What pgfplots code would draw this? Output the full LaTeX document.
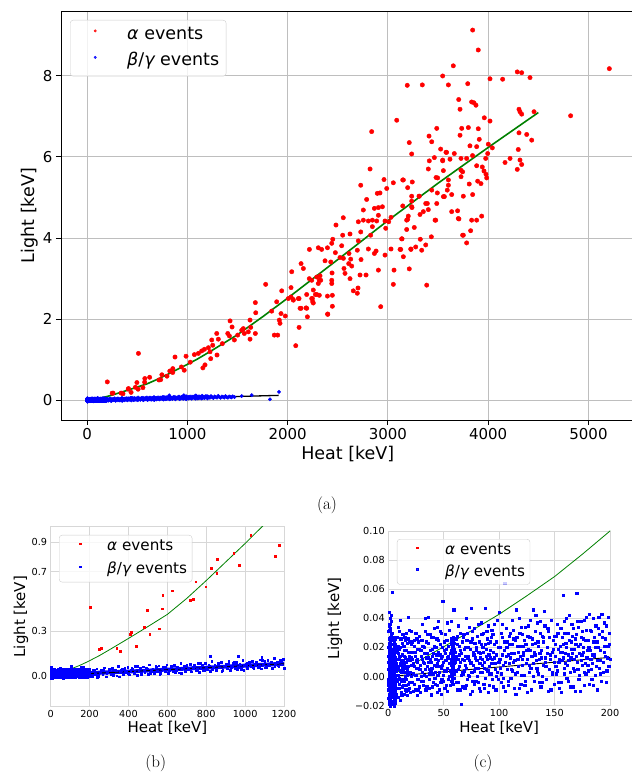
\documentclass[border=0pt]{standalone}
\usepackage{fontspec}
\usepackage{pgfplots}
\usepackage{pgfplotstable}
\pgfplotsset{compat=1.18}
\newfontfamily\dv{DejaVu Sans}[ItalicFont={DejaVu Sans Oblique}]
\definecolor{gridgray}{RGB}{190,190,190}
\definecolor{lightgrid}{RGB}{215,215,215}
\definecolor{mplgreen}{RGB}{0,128,0}
\definecolor{legendedge}{RGB}{204,204,204}

% alpha events (heat keV, light keV)
\pgfplotstableread[row sep=\\]{
E L\\
202 0.458\\ 250 0.180\\ 259 0.182\\ 339 0.182\\ 358 0.166\\ 410 0.278\\ 413 0.294\\ 439 0.200\\ 482 0.325\\ 497 0.442\\
509 0.278\\ 512 1.16\\ 557 0.316\\ 574 0.451\\ 576 0.541\\ 624 0.572\\ 717 0.505\\ 734 0.512\\ 746 0.633\\ 797 0.599\\
825 0.725\\ 855 0.785\\ 854 0.689\\ 877 1.07\\ 941 0.826\\ 969 0.745\\ 987 1.09\\ 1029 0.943\\ 1070 1.13\\ 1110 1.16\\
1143 1.22\\ 1155 0.803\\ 1176 0.877\\ 1170 1.26\\ 1210 1.30\\ 1226 1.20\\ 1233 1.03\\ 1253 1.36\\ 1243 1.49\\ 1293 1.65\\
1309 1.51\\ 1296 1.12\\ 1349 1.40\\ 1403 1.65\\ 1419 1.59\\ 1426 1.96\\ 1446 1.81\\ 1469 1.49\\ 1502 1.61\\ 1542 1.73\\
1558 1.77\\ 1568 1.65\\ 1608 1.69\\ 1625 1.51\\ 1632 1.80\\ 1625 1.98\\ 1678 1.65\\ 1682 2.16\\ 1678 2.41\\ 1781 2.86\\
1841 2.20\\ 1891 2.43\\ 1867 1.61\\ 1901 1.61\\ 1917 1.98\\ 1924 1.90\\ 1934 2.14\\ 1941 2.70\\ 1977 2.08\\ 2007 2.51\\
2034 2.78\\ 2041 3.17\\ 2054 2.49\\ 2081 1.35\\ 2107 2.51\\ 2114 1.80\\ 2134 3.37\\ 2157 3.25\\ 2217 3.72\\ 2306 3.76\\
2240 2.96\\ 2256 2.72\\ 2190 2.27\\ 2124 2.27\\ 2197 2.06\\ 2277 2.61\\ 2247 2.51\\ 2316 2.59\\ 2316 2.96\\ 2838 6.62\\
3088 6.90\\ 2822 5.70\\ 2729 5.30\\ 2788 4.95\\ 2755 4.69\\ 2961 5.44\\ 2988 5.22\\ 2894 5.10\\ 2921 5.11\\ 2865 4.73\\
2905 4.75\\ 2945 4.77\\ 2905 4.56\\ 2845 4.44\\ 2888 4.42\\ 2805 4.42\\ 2755 4.44\\ 2705 4.40\\ 2971 4.42\\ 3008 4.40\\
3031 4.51\\ 2978 4.24\\ 2845 4.28\\ 2729 4.15\\ 2705 3.93\\ 2828 4.07\\ 2555 4.50\\ 2482 4.32\\ 2549 4.07\\ 2622 4.10\\
2450 3.97\\ 2440 3.87\\ 2397 3.76\\ 2339 3.72\\ 2539 3.81\\ 2476 3.64\\ 2522 3.52\\ 2556 3.50\\ 2612 3.62\\ 2629 3.48\\
2695 3.70\\ 2805 3.73\\ 2865 3.62\\ 2882 3.68\\ 2732 3.47\\ 2373 3.44\\ 2430 3.41\\ 2609 3.37\\ 2639 3.31\\ 2562 3.25\\
2443 3.14\\ 2572 3.13\\ 2722 3.09\\ 2782 3.09\\ 2622 3.00\\ 2655 2.70\\ 2695 2.64\\ 2702 2.77\\ 2216 3.00\\ 2290 3.04\\
2323 3.07\\ 2330 2.96\\ 2440 2.96\\ 2440 2.88\\ 2306 2.88\\ 2190 2.61\\ 2240 2.51\\ 2256 2.40\\ 2290 2.61\\ 2397 2.57\\
2446 2.59\\ 2034 2.55\\ 2057 2.47\\ 2114 2.51\\ 2134 2.27\\ 2184 2.28\\ 2446 2.32\\ 2399 2.13\\ 2928 2.31\\ 3054 2.86\\
3061 3.21\\ 2905 3.21\\ 2971 3.58\\ 3031 3.73\\ 3141 3.98\\ 3154 3.54\\ 3128 3.72\\ 3213 3.24\\ 3187 4.21\\ 3197 4.46\\
3203 4.54\\ 3148 4.79\\ 3237 4.91\\ 3240 4.75\\ 3263 4.26\\ 3277 3.78\\ 3230 3.72\\ 3320 4.58\\ 3353 4.65\\ 3377 4.85\\
3403 4.70\\ 3313 5.03\\ 3323 3.97\\ 3337 3.70\\ 3377 3.83\\ 3433 4.03\\ 3387 2.84\\ 3437 5.18\\ 3477 4.44\\ 3493 5.11\\
3480 5.49\\ 3553 5.66\\ 3603 5.43\\ 3546 5.90\\ 3403 5.70\\ 3413 5.90\\ 3463 5.98\\ 3526 6.19\\ 3579 6.11\\ 3437 6.37\\
3410 6.51\\ 3487 6.70\\ 3237 6.07\\ 3213 6.35\\ 3148 5.43\\ 3197 5.24\\ 3054 5.36\\ 3243 5.38\\ 3553 5.02\\ 2400 2.12\\
2250 2.43\\ 3745 4.07\\ 3785 3.88\\ 3825 4.18\\ 3835 4.44\\ 3885 4.44\\ 3935 4.54\\ 3702 4.48\\ 3845 9.12\\ 3901 8.63\\
3652 8.24\\ 3546 7.99\\ 3193 7.76\\ 3343 7.77\\ 3603 7.77\\ 3796 7.80\\ 4018 7.92\\ 4144 7.91\\ 4290 8.09\\ 4334 8.07\\
4417 7.95\\ 3706 7.41\\ 3719 7.17\\ 3835 7.35\\ 3858 7.33\\ 3878 7.27\\ 4307 7.17\\ 4317 7.11\\ 4334 7.05\\ 4457 7.11\\
4822 7.01\\ 5208 8.17\\ 3961 6.96\\ 4018 6.88\\ 3736 6.70\\ 3802 6.72\\ 3901 6.69\\ 3719 6.53\\ 3585 6.11\\ 3662 6.08\\
3818 6.27\\ 3885 6.25\\ 3911 6.43\\ 4001 6.31\\ 4041 6.22\\ 3995 6.08\\ 4307 6.59\\ 4384 6.55\\ 4434 6.41\\ 4300 6.18\\
3546 5.92\\ 3619 5.94\\ 3729 5.96\\ 3785 5.96\\ 3844 6.03\\ 3975 5.96\\ 4218 5.96\\ 4168 5.86\\ 4317 5.92\\ 4334 5.81\\
4290 5.69\\ 3729 5.67\\ 3745 5.63\\ 3885 5.78\\ 3941 5.75\\ 3958 5.65\\ 3978 5.57\\ 3985 5.48\\ 3729 5.51\\ 3496 5.48\\
3895 5.40\\ 3928 5.34\\ 3811 5.33\\ 3154 5.43\\ 3603 5.30\\ 3592 5.18\\ 3563 5.02\\ 3636 5.07\\ 3752 5.03\\ 3845 5.07\\
3237 5.03\\ 3310 5.03\\ 3237 4.77\\ 3393 4.85\\ 3487 4.85\\ 3636 4.65\\ 3695 4.67\\ 3708 4.47\\ 3470 4.44\\ 3187 4.44\\
3752 4.07\\ 3137 3.98\\ 3121 3.72\\ 3228 3.73\\
}\alphadata

% beta/gamma events (heat keV, light keV)
\pgfplotstableread[row sep=\\]{
E L\\
0.3 0.005\\ 0.5 -0.012\\ 0.8 0.018\\ 1.0 0.002\\ 1.2 -0.008\\ 1.5 0.011\\ 1.7 -0.016\\ 2.0 0.024\\ 2.2 0.000\\ 2.5 -0.004\\ 2.8 0.014\\ 3.0 -0.010\\
0.4 0.031\\ 0.6 -0.019\\ 0.9 0.008\\ 1.1 0.016\\ 1.3 -0.003\\ 1.6 0.021\\ 1.8 -0.011\\ 2.1 0.006\\ 2.3 0.029\\ 2.6 -0.014\\ 2.9 0.003\\ 3.1 0.019\\
0.2 -0.006\\ 0.7 0.013\\ 1.0 -0.017\\ 1.4 0.027\\ 1.9 0.010\\ 2.4 -0.007\\ 2.7 0.022\\ 3.2 0.058\\ 0.5 0.044\\ 1.2 0.036\\ 2.0 -0.020\\ 0.8 -0.001\\
1.5 0.004\\ 2.2 0.015\\ 0.3 0.020\\ 1.7 0.033\\ 2.6 0.009\\ 1.1 -0.013\\ 0.6 0.026\\ 2.9 -0.018\\ 1.8 0.017\\ 0.9 -0.009\\ 2.4 0.038\\ 1.3 0.012\\
0.4 -0.015\\ 2.1 -0.002\\ 1.6 0.007\\ 2.8 0.027\\ 0.7 0.001\\ 3.0 0.012\\ 1.4 -0.005\\ 2.3 0.042\\ 0.1 0.010\\ 1.9 -0.013\\ 2.5 0.018\\ 1.0 0.023\\
4.6 0.010\\ 4.8 -0.014\\ 5.0 0.022\\ 5.2 0.003\\ 5.4 -0.019\\ 5.6 0.015\\ 5.8 -0.006\\ 6.0 0.026\\ 6.2 0.008\\ 6.4 -0.011\\
4.7 0.018\\ 4.9 -0.003\\ 5.1 -0.020\\ 5.3 0.012\\ 5.5 0.024\\ 5.7 -0.015\\ 5.9 0.005\\ 6.1 -0.009\\ 6.3 0.019\\ 6.5 0.001\\
4.5 -0.008\\ 5.0 0.007\\ 5.2 -0.012\\ 5.4 0.027\\ 5.6 -0.002\\ 5.8 0.013\\ 6.0 -0.017\\ 6.2 0.021\\ 5.1 0.016\\ 5.5 -0.010\\
5.3 -0.016\\ 5.7 0.009\\ 5.9 -0.013\\ 6.1 0.017\\ 4.8 0.025\\ 5.0 -0.005\\ 5.6 0.004\\ 6.3 -0.004\\ 5.4 0.020\\ 5.8 -0.018\\
7.2 0.004\\ 7.8 -0.008\\ 8.3 0.012\\ 8.9 0.001\\ 9.4 0.019\\ 10.0 -0.005\\ 10.5 0.009\\ 11.1 0.026\\ 11.6 -0.011\\ 12.2 0.006\\
12.7 0.015\\ 13.3 -0.002\\ 13.8 0.021\\ 14.4 0.008\\ 14.9 -0.009\\ 15.5 0.013\\ 16.0 0.030\\ 16.6 0.003\\ 17.1 -0.013\\ 17.7 0.017\\
18.2 0.007\\ 18.8 -0.004\\ 19.3 0.024\\ 19.9 0.011\\ 7.5 0.017\\ 8.0 0.027\\ 8.6 -0.014\\ 9.1 0.007\\ 9.7 -0.001\\ 10.2 0.014\\
10.8 -0.016\\ 11.4 0.003\\ 11.9 0.011\\ 12.5 -0.007\\ 13.0 0.029\\ 13.6 0.005\\ 14.1 -0.012\\ 14.7 0.018\\ 15.2 0.000\\ 15.8 -0.006\\
16.3 0.010\\ 16.9 0.023\\ 17.4 0.005\\ 18.0 -0.009\\ 18.5 0.014\\ 19.1 0.002\\ 19.6 -0.011\\ 7.0 -0.012\\ 9.0 0.034\\ 11.0 0.039\\
13.5 0.010\\ 16.0 -0.002\\ 18.0 0.041\\ 19.0 0.032\\ 8.8 0.021\\ 12.0 -0.003\\ 15.0 0.025\\ 17.0 0.012\\ 10.0 0.031\\ 14.0 0.003\\
20.5 0.008\\ 21.3 -0.004\\ 22.0 0.017\\ 22.8 0.002\\ 23.5 0.025\\ 24.3 -0.009\\ 25.0 0.011\\ 25.8 0.019\\ 26.5 -0.002\\ 27.3 0.006\\
28.0 0.028\\ 28.8 -0.011\\ 29.5 0.014\\ 30.3 0.003\\ 31.0 0.021\\ 31.8 -0.006\\ 32.5 0.009\\ 33.3 0.031\\ 34.0 0.000\\ 34.8 0.016\\
35.5 -0.008\\ 36.3 0.023\\ 37.0 0.005\\ 37.8 0.012\\ 38.5 -0.012\\ 39.3 0.019\\ 40.0 0.002\\ 40.8 0.027\\ 41.5 0.008\\ 42.3 -0.005\\
43.0 0.015\\ 43.8 0.034\\ 44.5 0.001\\ 45.3 0.011\\ 46.0 -0.009\\ 46.8 0.022\\ 47.5 0.006\\ 48.3 0.014\\ 49.0 0.052\\ 49.8 -0.003\\
50.5 0.018\\ 51.3 0.029\\ 52.0 0.004\\ 52.8 -0.010\\ 53.5 0.013\\ 54.3 0.021\\ 55.0 0.000\\
20.9 0.022\\ 21.7 0.012\\ 22.4 -0.010\\ 23.2 0.007\\ 23.9 0.014\\ 24.7 0.030\\ 25.4 0.001\\ 26.2 0.010\\ 26.9 0.024\\ 27.7 -0.007\\
28.4 0.005\\ 29.2 0.018\\ 29.9 -0.003\\ 30.7 0.036\\ 31.4 0.010\\ 32.2 0.001\\ 32.9 0.016\\ 33.7 -0.009\\ 34.4 0.024\\ 35.2 0.007\\
35.9 0.013\\ 36.7 -0.002\\ 37.4 0.029\\ 38.2 0.004\\ 38.9 0.010\\ 39.7 -0.007\\ 40.4 0.016\\ 41.2 0.033\\ 41.9 -0.001\\ 42.7 0.020\\
43.4 0.007\\ 44.2 -0.011\\ 44.9 0.025\\ 45.7 0.003\\ 46.4 0.015\\ 47.2 -0.004\\ 47.9 0.030\\ 48.7 0.008\\ 49.4 0.001\\ 50.2 0.024\\
50.9 -0.008\\ 51.7 0.011\\ 52.4 0.019\\ 53.2 0.037\\ 53.9 -0.002\\ 54.7 0.009\\ 21.0 0.031\\ 26.0 -0.013\\ 33.0 0.040\\ 39.0 -0.013\\
45.0 0.038\\ 36.0 0.041\\ 24.0 0.001\\ 42.0 0.012\\ 48.0 -0.012\\
56.2 0.004\\ 56.5 0.018\\ 56.8 -0.003\\ 57.0 0.025\\ 57.2 0.010\\ 57.5 0.000\\ 57.7 0.021\\ 58.0 0.007\\ 58.2 0.027\\ 58.5 -0.005\\
58.7 0.014\\ 59.0 0.002\\ 59.2 0.019\\ 56.4 0.012\\ 56.9 0.024\\ 57.3 0.016\\ 57.6 -0.002\\ 57.9 0.011\\ 58.3 0.022\\ 58.6 0.006\\
58.9 0.026\\ 59.3 0.009\\ 56.6 0.008\\ 57.1 0.003\\ 57.8 0.015\\ 58.4 0.013\\ 59.1 -0.001\\ 57.4 0.020\\ 58.1 0.017\\ 58.8 0.020\\
59.0 0.046\\ 57.0 0.038\\ 56.0 -0.006\\
60.4 0.010\\ 61.2 -0.004\\ 62.0 0.022\\ 62.8 0.005\\ 63.6 0.015\\ 64.4 -0.009\\ 65.2 0.030\\ 66.0 -0.019\\ 66.8 0.012\\ 67.6 0.002\\
68.4 0.019\\ 69.2 0.008\\ 70.0 -0.006\\ 70.8 0.025\\ 71.6 0.013\\ 72.4 0.001\\ 73.2 0.034\\ 74.0 0.009\\ 74.8 0.047\\ 75.6 -0.010\\
76.4 0.017\\ 77.2 0.004\\ 78.0 0.023\\ 78.8 -0.003\\ 79.6 0.011\\ 80.4 0.028\\ 81.2 0.006\\ 82.0 -0.008\\ 82.8 0.016\\ 83.6 0.037\\
84.4 0.003\\ 85.2 0.020\\ 86.0 -0.005\\ 86.8 0.010\\ 87.6 0.047\\ 88.4 0.014\\ 89.2 0.026\\ 90.0 -0.011\\ 90.8 0.007\\ 91.6 0.018\\
92.4 0.002\\ 93.2 0.032\\ 94.0 0.012\\ 94.8 -0.007\\ 95.6 0.022\\ 96.4 0.005\\ 97.2 0.015\\ 98.0 0.039\\ 98.8 -0.002\\ 99.6 0.010\\
60.8 0.026\\ 61.6 0.014\\ 62.4 -0.009\\ 63.2 0.035\\ 64.0 0.007\\ 64.8 0.018\\ 65.6 0.001\\ 66.4 0.024\\ 67.2 -0.007\\ 68.0 0.029\\
68.8 0.004\\ 69.6 0.014\\ 70.4 0.040\\ 71.2 -0.002\\ 72.0 0.020\\ 72.8 0.011\\ 73.6 -0.012\\ 74.4 0.024\\ 75.2 0.003\\ 76.0 0.031\\
76.8 0.008\\ 77.6 -0.005\\ 78.4 0.013\\ 79.2 0.020\\ 80.0 0.000\\ 80.8 0.036\\ 81.6 0.017\\ 82.4 0.009\\ 83.2 -0.010\\ 84.0 0.022\\
84.8 0.012\\ 85.6 0.030\\ 86.4 0.006\\ 87.2 -0.001\\ 88.0 0.019\\ 88.8 0.031\\ 89.6 0.004\\ 90.4 0.023\\ 91.2 -0.006\\ 92.0 0.013\\
92.8 0.027\\ 93.6 -0.002\\ 94.4 0.017\\ 95.2 0.036\\ 96.0 0.009\\ 96.8 -0.009\\ 97.6 0.024\\ 98.4 0.003\\ 99.2 0.020\\ 100.0 0.044\\
100.5 0.012\\ 101.5 -0.004\\ 102.5 0.027\\ 103.5 0.008\\ 104.5 0.018\\ 105.0 0.064\\ 105.5 -0.010\\ 106.5 0.033\\ 107.5 0.005\\ 108.5 0.015\\
109.5 0.022\\ 110.5 -0.001\\ 111.5 0.039\\ 112.5 0.010\\ 113.5 -0.008\\ 114.5 0.025\\ 115.5 0.046\\ 116.5 0.003\\ 117.5 0.017\\ 118.5 0.030\\
119.5 -0.005\\ 120.5 0.012\\ 121.5 0.021\\ 122.5 0.001\\ 123.5 0.034\\ 124.5 0.009\\ 125.5 -0.011\\ 126.5 0.019\\ 127.5 0.027\\ 128.5 0.006\\
129.5 0.014\\ 130.5 0.046\\ 131.5 -0.003\\ 132.5 0.023\\ 133.5 0.011\\ 134.5 0.037\\ 135.5 0.002\\ 136.5 0.016\\ 137.5 -0.007\\ 138.5 0.028\\
139.5 0.008\\ 140.5 0.045\\ 141.5 0.013\\ 142.5 -0.002\\ 143.5 0.020\\ 144.5 0.031\\ 145.5 0.005\\ 146.5 -0.009\\ 147.5 0.017\\ 148.5 0.025\\ 149.5 0.010\\
101.0 0.020\\ 102.0 0.002\\ 103.0 0.036\\ 104.0 -0.007\\ 106.0 0.014\\ 107.0 0.024\\ 108.0 -0.003\\ 109.0 0.009\\ 110.0 0.030\\ 111.0 0.016\\
112.0 0.004\\ 113.0 0.026\\ 114.0 0.011\\ 115.0 -0.012\\ 116.0 0.021\\ 117.0 0.007\\ 118.0 0.040\\ 119.0 0.014\\ 120.0 0.001\\ 121.0 0.029\\
122.0 0.017\\ 123.0 -0.006\\ 124.0 0.022\\ 125.0 0.012\\ 126.0 0.035\\ 127.0 0.003\\ 128.0 0.018\\ 129.0 -0.009\\ 130.0 0.026\\ 131.0 0.009\\
132.0 0.015\\ 133.0 0.042\\ 134.0 0.004\\ 135.0 0.021\\ 136.0 -0.004\\ 137.0 0.030\\ 138.0 0.013\\ 139.0 0.000\\ 140.0 0.024\\ 141.0 0.035\\
142.0 0.007\\ 143.0 0.016\\ 144.0 -0.010\\ 145.0 0.027\\ 146.0 0.012\\ 147.0 0.039\\ 148.0 0.003\\ 149.0 0.019\\ 150.0 -0.005\\
150.5 0.014\\ 151.5 0.028\\ 152.5 0.004\\ 153.5 0.019\\ 154.5 -0.008\\ 155.5 0.033\\ 156.5 0.011\\ 157.5 0.022\\ 158.0 0.056\\ 158.5 0.002\\
159.5 0.016\\ 160.5 0.040\\ 161.5 0.008\\ 162.5 -0.003\\ 163.5 0.025\\ 164.5 0.013\\ 165.5 0.036\\ 166.5 0.006\\ 167.5 0.019\\ 168.5 -0.010\\
169.5 0.029\\ 170.0 0.057\\ 170.5 0.010\\ 171.5 0.021\\ 172.5 0.001\\ 173.5 0.038\\ 174.5 0.015\\ 175.5 0.026\\ 176.5 -0.006\\ 177.5 0.009\\
178.5 0.032\\ 179.5 0.018\\ 180.5 0.004\\ 181.5 0.043\\ 182.5 0.012\\ 183.5 -0.002\\ 184.5 0.024\\ 185.5 0.014\\ 186.5 0.035\\ 187.5 0.007\\
188.5 -0.009\\ 189.5 0.020\\ 190.5 0.029\\ 191.5 0.011\\ 192.5 0.043\\ 193.5 0.003\\ 194.5 0.017\\ 195.5 0.026\\ 196.5 -0.004\\ 197.5 0.013\\ 198.5 0.041\\ 199.5 0.022\\
151.0 0.007\\ 152.0 0.036\\ 153.0 -0.004\\ 154.0 0.012\\ 155.0 0.021\\ 156.0 -0.011\\ 157.0 0.017\\ 158.8 0.030\\ 159.0 0.006\\ 160.0 0.023\\
161.0 -0.001\\ 162.0 0.015\\ 163.0 0.042\\ 164.0 0.003\\ 165.0 0.019\\ 166.0 0.028\\ 167.0 -0.007\\ 168.0 0.012\\ 169.0 0.022\\ 170.8 0.005\\
171.0 0.034\\ 172.0 0.016\\ 173.0 -0.010\\ 174.0 0.027\\ 175.0 0.008\\ 176.0 0.020\\ 177.0 0.039\\ 178.0 0.002\\ 179.0 0.013\\ 180.0 0.025\\
181.0 -0.005\\ 182.0 0.018\\ 183.0 0.031\\ 184.0 0.009\\ 185.0 0.040\\ 186.0 0.015\\ 187.0 0.001\\ 188.0 0.024\\ 189.0 0.033\\ 190.0 0.006\\
191.0 0.018\\ 192.0 -0.003\\ 193.0 0.027\\ 194.0 0.010\\ 195.0 0.037\\ 196.0 0.014\\ 197.0 0.004\\ 198.0 0.021\\ 199.0 0.030\\ 200.0 0.012\\
0.2 0.014\\ 0.4 -0.004\\ 0.6 0.009\\ 0.8 -0.014\\ 1.0 0.012\\ 1.2 0.020\\ 1.4 -0.010\\ 1.6 0.000\\ 1.8 0.025\\ 2.0 0.013\\
2.2 -0.006\\ 2.4 0.004\\ 2.6 0.017\\ 2.8 -0.008\\ 3.0 0.030\\ 3.3 0.007\\ 0.3 -0.009\\ 0.5 0.022\\ 0.7 -0.013\\ 0.9 0.016\\
1.1 0.004\\ 1.3 0.032\\ 1.5 -0.015\\ 1.7 0.008\\ 1.9 -0.003\\ 2.1 0.018\\ 2.3 -0.012\\ 2.5 0.026\\ 2.7 0.002\\ 2.9 0.011\\
3.1 -0.005\\ 3.4 0.015\\ 0.1 -0.002\\ 1.0 0.006\\ 2.0 0.003\\ 3.0 0.001\\ 1.6 0.040\\ 0.6 0.035\\ 2.6 -0.019\\ 1.4 0.019\\
4.6 0.002\\ 4.8 0.014\\ 5.0 -0.010\\ 5.2 0.018\\ 5.4 0.006\\ 5.6 -0.008\\ 5.8 0.022\\ 6.0 0.000\\ 6.2 -0.014\\ 6.4 0.011\\
4.7 -0.017\\ 4.9 0.009\\ 5.1 0.025\\ 5.3 -0.001\\ 5.5 0.014\\ 5.7 0.001\\ 5.9 0.019\\ 6.1 -0.003\\ 6.3 0.007\\ 5.0 0.015\\
5.4 -0.006\\ 5.8 0.006\\ 5.2 -0.018\\ 5.6 0.023\\ 6.0 0.011\\
7.4 0.009\\ 8.1 -0.003\\ 8.7 0.016\\ 9.3 -0.008\\ 9.9 0.012\\ 10.4 0.020\\ 11.0 -0.002\\ 11.5 0.008\\ 12.1 -0.013\\ 12.6 0.023\\
13.2 0.004\\ 13.7 -0.006\\ 14.3 0.014\\ 14.8 0.027\\ 15.4 0.006\\ 15.9 -0.010\\ 16.5 0.018\\ 17.0 0.001\\ 17.6 -0.005\\ 18.1 0.026\\
18.7 0.011\\ 19.2 -0.008\\ 19.8 0.003\\ 7.7 -0.002\\ 8.4 0.005\\ 10.7 0.004\\ 12.9 0.011\\ 14.6 -0.003\\ 16.7 0.007\\ 18.9 0.017\\
20.2 0.013\\ 21.0 0.000\\ 21.8 0.024\\ 22.6 0.009\\ 23.4 -0.005\\ 24.1 0.017\\ 24.9 0.006\\ 25.6 0.026\\ 26.4 0.012\\ 27.1 -0.009\\
27.9 0.019\\ 28.6 0.008\\ 29.4 0.000\\ 30.1 0.025\\ 30.9 0.012\\ 31.6 -0.003\\ 32.4 0.020\\ 33.1 0.005\\ 33.9 0.013\\ 34.6 -0.007\\
35.4 0.029\\ 36.1 0.010\\ 36.9 0.002\\ 37.6 0.018\\ 38.4 0.027\\ 39.1 0.006\\ 39.9 0.014\\ 40.6 -0.004\\ 41.4 0.021\\ 42.1 0.003\\
42.9 0.012\\ 43.6 0.026\\ 44.4 -0.006\\ 45.1 0.017\\ 45.9 0.007\\ 46.6 0.031\\ 47.4 0.013\\ 48.1 -0.002\\ 48.9 0.020\\ 49.6 0.010\\
50.4 0.004\\ 51.1 0.016\\ 51.9 -0.006\\ 52.6 0.025\\ 53.4 0.006\\ 54.1 0.014\\ 54.9 0.032\\ 23.0 0.021\\ 37.0 -0.008\\ 44.0 0.009\\
56.3 0.016\\ 56.7 0.001\\ 57.1 0.022\\ 57.4 0.008\\ 57.8 -0.004\\ 58.1 0.012\\ 58.5 0.024\\ 58.8 0.004\\ 59.2 0.012\\ 56.5 0.026\\
57.3 0.005\\ 58.0 0.019\\ 58.6 0.016\\ 59.4 0.023\\ 57.6 0.013\\
60.2 0.017\\ 61.0 0.004\\ 61.8 0.028\\ 62.6 0.012\\ 63.4 -0.004\\ 64.2 0.021\\ 65.0 0.010\\ 65.8 0.016\\ 66.6 0.003\\ 67.4 0.027\\
68.2 0.011\\ 69.0 -0.008\\ 69.8 0.020\\ 70.6 0.006\\ 71.4 0.030\\ 72.2 0.014\\ 73.0 0.000\\ 73.8 0.019\\ 74.6 0.010\\ 75.4 0.026\\
76.2 -0.003\\ 77.0 0.015\\ 77.8 0.033\\ 78.6 0.006\\ 79.4 0.018\\ 80.2 0.011\\ 81.0 -0.004\\ 81.8 0.024\\ 82.6 0.013\\ 83.4 0.003\\
84.2 0.029\\ 85.0 0.008\\ 85.8 0.017\\ 86.6 -0.008\\ 87.4 0.022\\ 88.2 0.005\\ 89.0 0.012\\ 89.8 0.035\\ 90.6 0.015\\ 91.4 0.002\\
92.2 0.024\\ 93.0 0.009\\ 94.2 0.029\\ 95.8 0.013\\ 97.4 0.000\\
100.8 0.006\\ 101.8 0.030\\ 102.8 0.015\\ 103.8 -0.001\\ 104.8 0.024\\ 105.8 0.010\\ 106.8 0.020\\ 107.8 -0.006\\ 108.8 0.028\\ 109.8 0.013\\
110.8 0.005\\ 111.8 0.022\\ 112.8 0.032\\ 113.8 0.016\\ 114.8 0.002\\ 115.8 0.027\\ 116.8 0.012\\ 117.8 -0.008\\ 118.8 0.021\\ 119.8 0.034\\
120.8 0.008\\ 121.8 0.015\\ 122.8 0.025\\ 123.8 -0.003\\ 124.8 0.018\\ 125.8 0.028\\ 126.8 0.008\\ 127.8 0.039\\ 128.8 0.014\\ 129.8 0.022\\
130.8 0.000\\ 131.8 0.017\\ 132.8 0.031\\ 133.8 0.006\\ 134.8 0.024\\ 135.8 0.012\\ 136.8 0.038\\ 137.8 0.018\\ 138.8 -0.004\\ 139.8 0.027\\
141.8 0.010\\ 143.8 0.033\\ 145.8 0.015\\ 147.8 0.002\\ 149.8 0.028\\
150.8 0.022\\ 151.8 0.002\\ 152.8 0.030\\ 153.8 0.010\\ 154.8 0.017\\ 155.8 -0.004\\ 156.8 0.027\\ 157.8 0.013\\ 158.8 0.038\\ 159.8 0.009\\
160.8 0.020\\ 161.8 0.030\\ 162.8 0.011\\ 163.8 -0.007\\ 164.8 0.024\\ 165.8 0.016\\ 166.8 0.033\\ 167.8 0.004\\ 168.8 0.026\\ 169.8 0.014\\
170.8 0.038\\ 171.8 -0.002\\ 172.8 0.022\\ 173.8 0.011\\ 174.8 0.031\\ 175.8 0.017\\ 176.8 0.003\\ 177.8 0.025\\ 178.8 0.041\\ 179.8 0.008\\
180.8 0.020\\ 181.8 0.032\\ 182.8 0.005\\ 183.8 0.015\\ 184.8 -0.006\\ 185.8 0.027\\ 186.8 0.020\\ 187.8 0.035\\ 188.8 0.011\\ 189.8 0.041\\
190.8 0.002\\ 192.8 0.031\\ 194.8 0.021\\ 196.8 0.035\\ 198.8 0.007\\
204 0.025\\ 212 -0.004\\ 220 0.040\\ 228 0.010\\ 236 0.046\\ 244 -0.006\\ 252 0.025\\ 260 0.036\\ 268 0.006\\ 276 0.053\\
284 -0.007\\ 292 0.022\\ 300 0.042\\ 308 0.005\\ 316 0.049\\ 324 0.013\\ 332 0.037\\ 340 -0.002\\ 348 0.063\\ 356 0.025\\
364 0.036\\ 372 0.007\\ 380 0.050\\ 388 0.021\\ 396 0.056\\ 404 0.005\\ 412 0.035\\ 420 0.047\\ 428 0.016\\ 436 0.064\\
444 0.003\\ 452 0.033\\ 460 0.052\\ 468 0.016\\ 476 0.059\\ 484 0.024\\ 492 0.048\\ 500 0.009\\ 508 0.074\\ 516 0.035\\
524 0.047\\ 532 0.017\\ 540 0.061\\ 548 0.031\\ 556 0.067\\ 564 0.015\\ 572 0.046\\ 580 0.057\\ 588 0.027\\ 596 0.074\\
604 0.014\\ 612 0.043\\ 620 0.063\\ 628 0.026\\ 636 0.070\\ 644 0.035\\ 652 0.058\\ 660 0.020\\ 668 0.084\\ 676 0.046\\
684 0.057\\ 692 0.028\\ 700 0.071\\ 708 0.042\\ 716 0.077\\ 724 0.026\\ 732 0.056\\ 740 0.068\\ 748 0.037\\ 756 0.085\\
764 0.024\\ 772 0.054\\ 780 0.074\\ 788 0.037\\ 796 0.081\\ 804 0.045\\ 812 0.069\\ 820 0.030\\ 828 0.095\\ 836 0.056\\
844 0.068\\ 852 0.038\\ 860 0.082\\ 868 0.052\\ 876 0.088\\ 884 0.036\\ 892 0.067\\ 900 0.078\\ 908 0.048\\ 916 0.096\\
924 0.035\\ 932 0.065\\ 940 0.084\\ 948 0.048\\ 956 0.091\\ 964 0.056\\ 972 0.079\\ 980 0.041\\ 988 0.105\\ 996 0.067\\
1004 0.078\\ 1012 0.049\\ 1020 0.092\\ 1028 0.063\\ 1036 0.098\\ 1044 0.047\\ 1052 0.077\\ 1060 0.089\\ 1068 0.058\\ 1076 0.106\\
1084 0.046\\ 1092 0.075\\ 1100 0.095\\ 1108 0.058\\ 1116 0.102\\ 1124 0.066\\ 1132 0.090\\ 1140 0.051\\ 1148 0.116\\ 1156 0.077\\
1164 0.089\\ 1172 0.059\\ 1180 0.103\\ 1188 0.073\\ 1196 0.109\\
208 0.004\\ 224 0.035\\ 240 -0.012\\ 256 0.023\\ 272 0.034\\ 288 0.016\\ 304 0.046\\ 320 0.002\\ 336 0.032\\ 352 -0.007\\
368 0.042\\ 384 0.025\\ 400 0.012\\ 416 0.051\\ 432 0.022\\ 448 0.063\\ 464 0.011\\ 480 0.037\\ 496 0.046\\ 512 0.018\\
528 0.025\\ 544 0.056\\ 560 0.009\\ 576 0.044\\ 592 0.055\\ 608 0.037\\ 624 0.067\\ 640 0.023\\ 656 0.053\\ 672 0.014\\
688 0.063\\ 704 0.046\\ 720 0.034\\ 736 0.073\\ 752 0.043\\ 768 0.084\\ 784 0.032\\ 800 0.058\\ 816 0.067\\ 832 0.039\\
848 0.046\\ 864 0.077\\ 880 0.030\\ 896 0.065\\ 912 0.076\\ 928 0.058\\ 944 0.088\\ 960 0.044\\ 976 0.074\\ 992 0.035\\
1008 0.085\\ 1024 0.068\\ 1040 0.055\\ 1056 0.094\\ 1072 0.064\\ 1088 0.105\\ 1104 0.053\\ 1120 0.079\\ 1136 0.088\\ 1152 0.060\\
1168 0.067\\ 1184 0.098\\ 1200 0.051\\
1212 0.095\\ 1224 0.068\\ 1236 0.110\\ 1248 0.076\\ 1260 0.062\\ 1272 0.100\\ 1284 0.084\\ 1296 0.070\\ 1308 0.112\\ 1320 0.081\\
1332 0.065\\ 1344 0.098\\ 1356 0.088\\ 1368 0.072\\ 1380 0.108\\ 1392 0.086\\ 1404 0.070\\ 1416 0.100\\ 1428 0.090\\ 1440 0.078\\
1452 0.103\\ 1470 0.085\\ 1542 0.11\\ 1642 0.13\\ 1824 0.03\\ 1914 0.21\\ 819 0.128\\ 965 0.128\\ 1085 0.125\\
}\betadata

% alpha fit (green)
\pgfplotstableread[row sep=\\]{
E L\\
0 0\\ 25 0.0098\\ 50 0.0205\\ 75 0.0315\\ 100 0.0428\\ 125 0.0555\\ 150 0.0687\\ 175 0.0840\\ 200 0.1000\\ 250 0.134\\
300 0.172\\ 400 0.250\\ 500 0.330\\ 600 0.412\\ 700 0.520\\ 800 0.640\\ 900 0.765\\ 1000 0.890\\ 1100 1.020\\ 1250 1.240\\
1500 1.620\\ 1750 2.060\\ 2000 2.520\\ 2500 3.470\\ 3000 4.430\\ 3500 5.350\\ 4000 6.230\\ 4500 7.090\\
}\alphafit

% beta/gamma fit (black)
\pgfplotstableread[row sep=\\]{
E L\\
0 0\\ 1910 0.126\\
}\betafit

% dense core of the beta/gamma band
\pgfplotstableread[row sep=\\]{
E L\\
0 0.025\\ 100 0.027\\ 200 0.030\\ 400 0.040\\ 600 0.053\\ 800 0.066\\ 1000 0.080\\ 1200 0.093\\ 1450 0.106\\
1450 0.084\\ 1200 0.066\\ 1000 0.053\\ 800 0.040\\ 600 0.027\\ 400 0.014\\ 200 0.002\\ 100 -0.005\\ 0 -0.010\\
}\betacore

\begin{document}
\begin{tikzpicture}[x=1pt,y=1pt]
\path[use as bounding box] (0,0) rectangle (631,783);

% ---------------- (a) ----------------
\begin{axis}[
  at={(61pt,363pt)}, anchor=south west, scale only axis,
  width=573.6pt, height=409pt,
  xmin=-260, xmax=5460, ymin=-0.48, ymax=9.59,
  xtick={0,1000,2000,3000,4000,5000}, xticklabels={0,1000,2000,3000,4000,5000},
  ytick={0,2,4,6,8}, yticklabels={0,2,4,6,8},
  grid=major, major grid style={gridgray, line width=1pt},
  axis line style={black, line width=0.9pt},
  tick align=outside, major tick length=5pt, tick style={black, line width=0.9pt},
  xtick pos=left, ytick pos=left,
  ticklabel style={font=\dv\fontsize{15}{18}\selectfont},
  xlabel={Heat [keV]}, ylabel={Light [keV]},
  label style={font=\dv\fontsize{17.5}{21}\selectfont},
  xlabel style={at={(axis description cs:0.5,-0.0831)}, anchor=center},
  ylabel style={at={(axis description cs:-0.054,0.5)}, anchor=center},
  legend cell align=left,
  legend style={at={(axis description cs:0.0157,0.978)}, anchor=north west,
    draw=legendedge, fill=white, fill opacity=0.8, text opacity=1, draw opacity=1,
    rounded corners=3pt, inner xsep=7pt, inner ysep=6pt, row sep=9pt,
    font=\dv\fontsize{17.5}{20}\selectfont,
    nodes={inner sep=0pt, text height=13pt, text depth=4.5pt},
    /tikz/every odd column/.append style={column sep=7pt}},
  legend image code/.code={\path[draw=none,fill=none,rounded corners=0pt] (0pt,-2pt) rectangle (43pt,2pt); \draw[#1] plot coordinates {(18pt,4pt)};},
  legend image post style={mark size=1.2pt},
]
\addplot[only marks, mark=*, color=red, mark size=2.2pt] table[x=E,y=L]{\alphadata};
\addlegendentry{{\itshape α} events}
\addplot[fill=blue, draw=none, forget plot] table[x=E,y=L]{\betacore};
\addplot[only marks, mark=*, color=blue, mark size=1.7pt] table[x=E,y=L]{\betadata};
\addlegendentry{{\itshape β}/{\itshape γ} events}
\addplot[mplgreen, line width=1.6pt, forget plot] table[x=E,y=L]{\alphafit};
\addplot[black, line width=1.3pt, forget plot] table[x=E,y=L]{\betafit};
\end{axis}

% ---------------- (b) ----------------
\begin{axis}[
  at={(50.7pt,76.3pt)}, anchor=south west, scale only axis,
  width=233.3pt, height=180pt,
  xmin=0, xmax=1200, ymin=-0.21, ymax=1.003,
  xtick={0,200,400,600,800,1000,1200}, xticklabels={0,200,400,600,800,1000,1200},
  ytick={0,0.3,0.7,0.9}, yticklabels={0.0,0.3,0.7,0.9},
  grid=major, major grid style={lightgrid, line width=0.8pt},
  axis line style={lightgrid, line width=0.8pt},
  major tick length=0pt,
  ticklabel style={font=\dv\fontsize{9.7}{11}\selectfont},
  xlabel={Heat [keV]}, ylabel={Light [keV]},
  label style={font=\dv\fontsize{15}{18}\selectfont},
  xlabel style={at={(axis description cs:0.5,-0.119)}, anchor=center},
  ylabel style={at={(axis description cs:-0.127,0.5)}, anchor=center},
  legend cell align=left,
  legend style={at={(axis description cs:0.0356,0.954)}, anchor=north west,
    draw=legendedge, fill=white, fill opacity=0.8, text opacity=1, draw opacity=1,
    rounded corners=3pt, inner xsep=5pt, inner ysep=4.5pt, row sep=8pt,
    font=\dv\fontsize{15.2}{18}\selectfont,
    nodes={inner sep=0pt, text height=11pt, text depth=4pt},
    /tikz/every odd column/.append style={column sep=6pt}},
  legend image code/.code={\path[draw=none,fill=none,rounded corners=0pt] (0pt,-2pt) rectangle (37pt,2pt); \draw[#1] plot coordinates {(16pt,3.5pt)};},
  legend image post style={mark size=0.9pt},
]
\addplot[only marks, mark=square*, color=red, mark size=0.9pt] table[x=E,y=L]{\alphadata};
\addlegendentry{{\itshape α} events}
\addplot[fill=blue, draw=none, forget plot] table[x=E,y=L]{\betacore};
\addplot[only marks, mark=square*, color=blue, mark size=0.85pt] table[x=E,y=L]{\betadata};
\addlegendentry{{\itshape β}/{\itshape γ} events}
\addplot[mplgreen, line width=0.8pt, forget plot] table[x=E,y=L]{\alphafit};
\addplot[black, line width=0.9pt, forget plot] table[x=E,y=L]{\betafit};
\end{axis}

% ---------------- (c) ----------------
\begin{axis}[
  at={(388.3pt,77.3pt)}, anchor=south west, scale only axis,
  width=221.7pt, height=174.7pt,
  xmin=0, xmax=200, ymin=-0.02, ymax=0.10,
  xtick={0,50,100,150,200}, xticklabels={0,50,100,150,200},
  ytick={-0.02,0,0.02,0.04,0.06,0.08,0.10}, yticklabels={−0.02,0.00,0.02,0.04,0.06,0.08,0.10},
  grid=major, major grid style={lightgrid, line width=0.8pt},
  axis line style={lightgrid, line width=0.8pt},
  major tick length=0pt,
  ticklabel style={font=\dv\fontsize{9.7}{11}\selectfont},
  xlabel={Heat [keV]}, ylabel={Light [keV]},
  label style={font=\dv\fontsize{15}{18}\selectfont},
  xlabel style={at={(axis description cs:0.5,-0.128)}, anchor=center},
  ylabel style={at={(axis description cs:-0.240,0.5)}, anchor=center},
  legend cell align=left,
  legend style={at={(axis description cs:0.039,0.954)}, anchor=north west,
    draw=legendedge, fill=white, fill opacity=0.8, text opacity=1, draw opacity=1,
    rounded corners=3pt, inner xsep=5pt, inner ysep=4.5pt, row sep=6.3pt,
    font=\dv\fontsize{15.2}{18}\selectfont,
    nodes={inner sep=0pt, text height=11pt, text depth=4pt},
    /tikz/every odd column/.append style={column sep=6pt}},
  legend image code/.code={\path[draw=none,fill=none,rounded corners=0pt] (0pt,-2pt) rectangle (37pt,2pt); \draw[#1] plot coordinates {(15pt,3.5pt)};},
  legend image post style={mark size=0.9pt},
]
\addplot[only marks, mark=square*, color=red, mark size=0.9pt] table[x=E,y=L]{\alphadata};
\addlegendentry{{\itshape α} events}
\addplot[only marks, mark=square*, color=blue, mark size=1.1pt] table[x=E,y=L]{\betadata};
\addlegendentry{{\itshape β}/{\itshape γ} events}
\addplot[mplgreen, line width=0.8pt, forget plot] table[x=E,y=L]{\alphafit};
\addplot[black, line width=0.9pt, forget plot] table[x=E,y=L]{\betafit};
\end{axis}

% captions
\node[font=\fontsize{17}{20}\selectfont] at (327,278) {(a)};
\node[font=\fontsize{17}{20}\selectfont] at (155.7,19.7) {(b)};
\node[font=\fontsize{17}{20}\selectfont] at (483,19.7) {(c)};
\end{tikzpicture}
\end{document}
